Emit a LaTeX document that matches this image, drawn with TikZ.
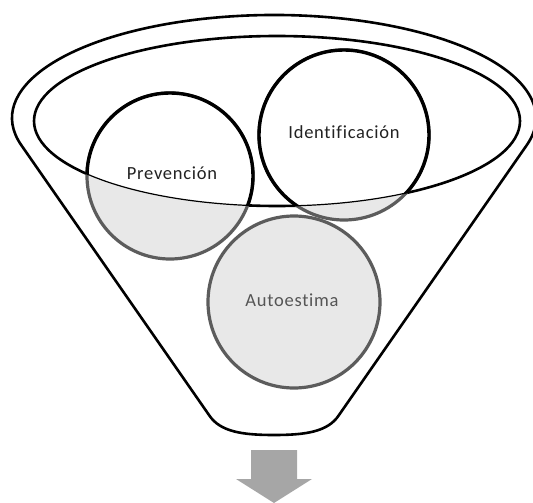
\documentclass[tikz,border=0pt]{standalone}
\usepackage{fontspec}
\setmainfont{Carlito}
\definecolor{lightfill}{HTML}{E8E8E8}
\definecolor{ringgray}{HTML}{5C5C5C}
\definecolor{textdark}{HTML}{222222}
\definecolor{textgray}{HTML}{555555}
\definecolor{arrowgray}{HTML}{A6A6A6}
\begin{document}
\begin{tikzpicture}[x=1pt,y=-1pt,
  funnel/.style={draw=black,line width=2.6pt},
  lowerring/.style={fill=lightfill,draw=ringgray,line width=3.2pt},
  upperring/.style={fill=white,draw=black,line width=3.4pt},
  lbl/.style={font=\fontsize{18.5}{20}\selectfont\addfontfeature{LetterSpace=4,Ligatures=NoCommon},inner sep=0pt},
  ]
\useasboundingbox (0,0) rectangle (533,503);
% centres
\coordinate (prev) at (170,176);
\coordinate (ident) at (344,135);
\coordinate (auto) at (294,302);
\coordinate (top) at (277,121);
% outer funnel
\draw[funnel,line join=round] (21.2,145) arc[start angle=164.8,end angle=375.2,x radius=262,y radius=103]
  -- (339,415) .. controls (328,432) and (305,435) .. (274,435)
  .. controls (243,435) and (220,432) .. (209,415) -- cycle;
% inner ellipse
\draw[funnel] (top) ellipse[x radius=243,y radius=85];
% lower circles
\path[lowerring] (auto) circle[radius=86];
\path[lowerring] (prev) circle[radius=83];
\path[lowerring] (ident) circle[radius=85];
% upper parts inside the ellipse
\begin{scope}
  \clip (top) ellipse[x radius=243,y radius=85];
  \path[upperring] (prev) circle[radius=83];
  \path[upperring] (ident) circle[radius=85];
\end{scope}
\draw[line width=1.2pt] (top) ellipse[x radius=243,y radius=85];
% labels
\node[lbl,text=textdark] (prevtext) at (172,173) {Prevención};
\node[lbl,text=textdark] (identtext) at (344,132) {Identificación};
\node[lbl,text=textgray] (autotext) at (292,300) {Autoestima};
% arrow
\fill[arrowgray] (251,450) -- (297,450) -- (297,479) -- (312,479) -- (274,503)
  -- (236,479) -- (251,479) -- cycle;
\end{tikzpicture}
\end{document}
